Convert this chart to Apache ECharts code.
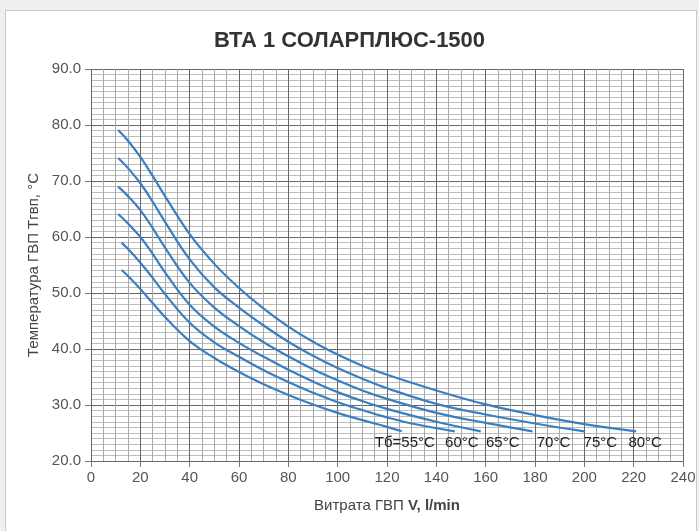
<!DOCTYPE html>
<html>
<head>
<meta charset="utf-8">
<script src="https://cdn.jsdelivr.net/npm/echarts@6/dist/echarts.min.js"></script>
<style>
  html, body { margin: 0; padding: 0; background: #efefef; }
  #panel { position: absolute; left: 5px; top: 10px; width: 690px; height: 540px;
           background: #fff; border: 1px solid #c9c9c9; }
  #chart { position: absolute; left: 0; top: 0; width: 699px; height: 531px; }
</style>
</head>
<body>
<div id="panel"></div>
<div id="chart"></div>
<script>
// Flow rate V (l/min) and hot-water temperature (°C) for each tank temperature Tб
const t55V = [12.4, 16, 20, 25, 30, 40, 50, 60, 70, 80, 90, 100, 110, 120, 126];
const t55T = [54.1, 52.6, 50.7, 48.2, 45.7, 41.4, 38.4, 35.9, 33.7, 31.8, 30.1, 28.6, 27.3, 26.1, 25.3];

const t60V = [12.4, 16, 20, 25, 30, 40, 50, 60, 70, 80, 90, 100, 110, 120, 130, 147.5];
const t60T = [59.0, 57.4, 55.4, 52.7, 49.8, 44.7, 41.2, 38.6, 36.2, 34.1, 32.2, 30.5, 29.1, 27.8, 26.7, 25.3];

const t65V = [11, 15, 20, 25, 30, 40, 50, 60, 70, 80, 90, 100, 110, 120, 140, 158];
const t65T = [64.1, 62.4, 60.0, 57.0, 53.7, 47.9, 44.0, 41.1, 38.6, 36.3, 34.2, 32.3, 30.7, 29.3, 27.0, 25.3];

const t70V = [11, 15, 20, 25, 30, 40, 50, 60, 70, 80, 90, 100, 110, 120, 140, 160, 179];
const t70T = [69.0, 67.3, 64.8, 61.6, 58.1, 51.8, 47.4, 44.1, 41.2, 38.7, 36.4, 34.4, 32.6, 31.1, 28.6, 26.8, 25.3];

const t75V = [11, 15, 20, 25, 30, 40, 50, 60, 70, 80, 90, 100, 110, 120, 140, 160, 180, 200];
const t75T = [74.1, 72.3, 69.6, 66.3, 62.7, 56.0, 51.0, 47.4, 44.2, 41.3, 38.8, 36.6, 34.7, 33.0, 30.2, 28.3, 26.7, 25.3];

const t80V = [11, 15, 20, 25, 30, 40, 50, 60, 70, 80, 90, 100, 110, 120, 140, 160, 180, 200, 221];
const t80T = [79.1, 77.2, 74.3, 70.9, 67.3, 60.5, 55.2, 50.9, 47.2, 44.0, 41.3, 39.0, 37.0, 35.4, 32.6, 30.1, 28.2, 26.6, 25.3];

const curveNames = ['Тб=55°C', '60°C', '65°C', '70°C', '75°C', '80°C'];
const curveV = [t55V, t60V, t65V, t70V, t75V, t80V];
const curveT = [t55T, t60T, t65T, t70T, t75T, t80T];

// Axis ticks
const xMin = 0, xMax = 240, xStep = 20;
const yMin = 20, yMax = 90, yStep = 10;

// Horizontal shift (px) of each curve caption relative to the curve end
const labelShift = [3, 7, 22, 21, 16, 9];

const lineColor = '#3a7fc1';
const font = '"Liberation Sans", Arial, Helvetica, sans-serif';

const series = curveV.map((vs, i) => {
  const ts = curveT[i];
  const last = vs.length - 1;
  return {
    type: 'line',
    name: curveNames[i],
    data: vs.map((v, k) => [v, ts[k]]),
    smooth: 0.4,
    showSymbol: false,
    symbol: 'none',
    lineStyle: { color: lineColor, width: 2.2 },
    emphasis: { disabled: true },
    z: 5,
    markPoint: {
      silent: true,
      symbol: 'circle',
      symbolSize: 0,
      data: [{
        coord: [vs[last], ts[last]],
        label: {
          show: true,
          formatter: curveNames[i],
          position: 'bottom',
          distance: 4,
          offset: [labelShift[i], 0],
          color: '#222',
          fontSize: 15,
          fontFamily: font
        }
      }]
    }
  };
});

const chart = echarts.init(document.getElementById('chart'), null, { renderer: 'canvas' });
chart.setOption({
  backgroundColor: 'transparent',
  animation: false,
  title: {
    text: 'ВТА 1 СОЛАРПЛЮС-1500',
    left: 'center',
    top: 25,
    textStyle: { fontFamily: font, fontSize: 22, fontWeight: 'bold', color: '#333' }
  },
  grid: { left: 91, right: 16, top: 69, bottom: 70 },
  xAxis: {
    type: 'value',
    min: xMin, max: xMax, interval: xStep,
    name: '{a|Витрата ГВП }{b|V, l/min}',
    nameLocation: 'middle',
    nameGap: 37,
    nameTextStyle: {
      rich: {
        a: { fontFamily: font, fontSize: 15, color: '#444' },
        b: { fontFamily: font, fontSize: 15, color: '#444', fontWeight: 'bold' }
      }
    },
    axisLine: { show: false },
    axisTick: { show: true, length: 6, lineStyle: { color: '#777' } },
    axisLabel: { fontFamily: font, fontSize: 15, color: '#555', margin: 9 },
    splitLine: { show: true, lineStyle: { color: '#666', width: 1 } },
    minorTick: { show: false, splitNumber: 4 },
    minorSplitLine: { show: true, lineStyle: { color: '#a8a8a8', width: 1 } }
  },
  yAxis: {
    type: 'value',
    min: yMin, max: yMax, interval: yStep,
    name: 'Температура ГВП Tгвп, °C',
    nameLocation: 'middle',
    nameGap: 50,
    nameTextStyle: { fontFamily: font, fontSize: 15, color: '#444' },
    axisLine: { show: false },
    axisTick: { show: true, length: 6, lineStyle: { color: '#777' } },
    axisLabel: { fontFamily: font, fontSize: 15, color: '#555', margin: 10,
                 formatter: v => v.toFixed(1) },
    splitLine: { show: true, lineStyle: { color: '#666', width: 1 } },
    minorTick: { show: false, splitNumber: 10 },
    minorSplitLine: { show: true, lineStyle: { color: '#bdbdbd', width: 1 } }
  },
  series: series
});
</script>
</body>
</html>
